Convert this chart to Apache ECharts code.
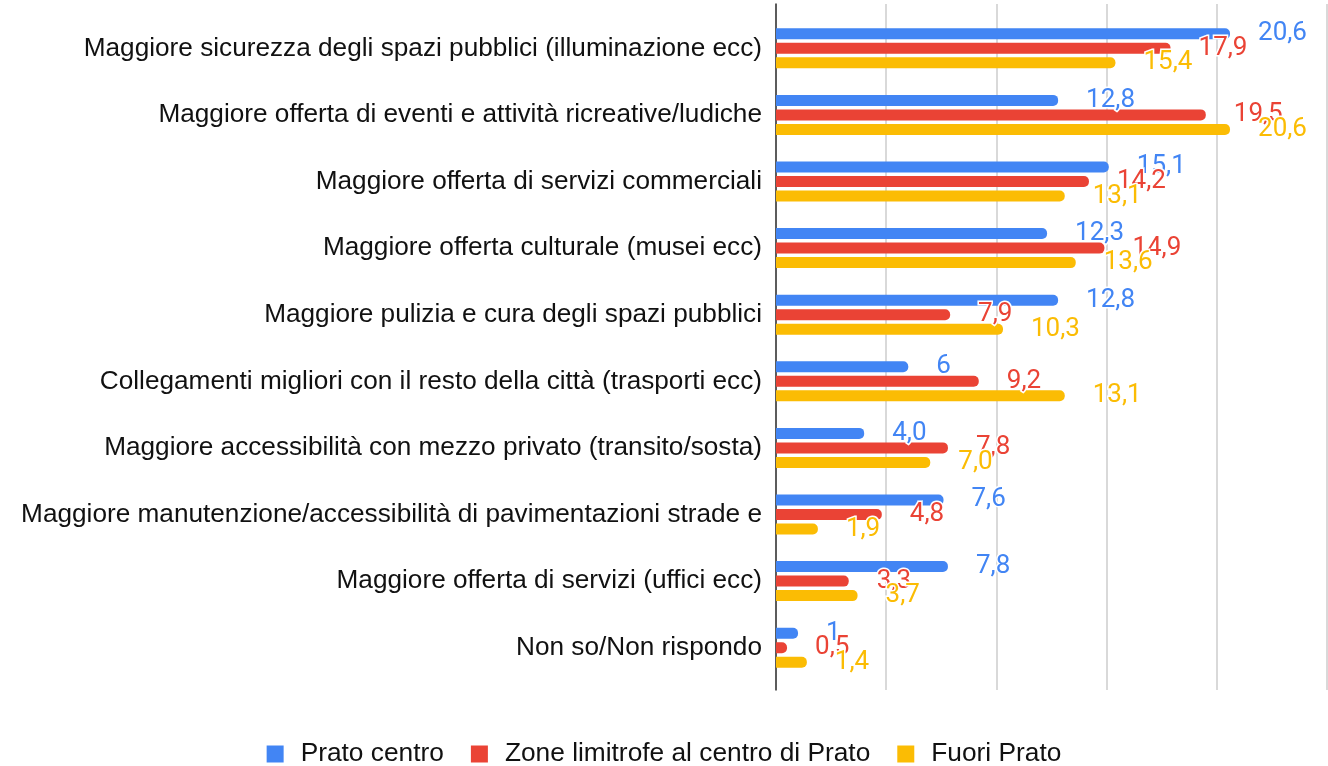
<!DOCTYPE html>
<html>
<head>
<meta charset="utf-8">
<script src="https://cdn.jsdelivr.net/npm/echarts@6/dist/echarts.min.js"></script>
<style>
html,body{margin:0;padding:0;background:#fff;}
#chart{width:1328px;height:766px;}
</style>
</head>
<body>
<div id="chart"></div>
<script>
const categories = [
  'Maggiore sicurezza degli spazi pubblici (illuminazione ecc)',
  'Maggiore offerta di eventi e attività ricreative/ludiche',
  'Maggiore offerta di servizi commerciali',
  'Maggiore offerta culturale (musei ecc)',
  'Maggiore pulizia e cura degli spazi pubblici',
  'Collegamenti migliori con il resto della città (trasporti ecc)',
  'Maggiore accessibilità con mezzo privato (transito/sosta)',
  'Maggiore manutenzione/accessibilità di pavimentazioni strade e',
  'Maggiore offerta di servizi (uffici ecc)',
  'Non so/Non rispondo'
];
const seriesNames = ['Prato centro', 'Zone limitrofe al centro di Prato', 'Fuori Prato'];
const pratoCentro = [20.6, 12.8, 15.1, 12.3, 12.8, 6, 4.0, 7.6, 7.8, 1];
const zoneLimitrofe = [17.9, 19.5, 14.2, 14.9, 7.9, 9.2, 7.8, 4.8, 3.3, 0.5];
const fuoriPrato = [15.4, 20.6, 13.1, 13.6, 10.3, 13.1, 7.0, 1.9, 3.7, 1.4];
const pratoCentroLabels = ['20,6', '12,8', '15,1', '12,3', '12,8', '6', '4,0', '7,6', '7,8', '1'];
const zoneLimitrofeLabels = ['17,9', '19,5', '14,2', '14,9', '7,9', '9,2', '7,8', '4,8', '3,3', '0,5'];
const fuoriPratoLabels = ['15,4', '20,6', '13,1', '13,6', '10,3', '13,1', '7,0', '1,9', '3,7', '1,4'];
const axisMin = 0, axisMax = 25, axisStep = 5;

const colors = ['#4285F4', '#EA4335', '#FBBC04'];
const values = [pratoCentro, zoneLimitrofe, fuoriPrato];
const labels = [pratoCentroLabels, zoneLimitrofeLabels, fuoriPratoLabels];

const chart = echarts.init(document.getElementById('chart'), null, {renderer: 'canvas'});

const series = seriesNames.map((name, i) => ({
  name: name,
  type: 'bar',
  xAxisIndex: 1,
  yAxisIndex: 1,
  data: values[i],
  barWidth: 11,
  barGap: '32%',
  itemStyle: {color: colors[i], borderRadius: [0, 5, 5, 0]},
  label: {
    show: true,
    position: 'right',
    distance: 28,
    formatter: p => labels[i][p.dataIndex],
    color: colors[i],
    fontFamily: 'Roboto',
    fontSize: 26,
    textBorderColor: '#fff',
    textBorderWidth: 3
  },
  emphasis: {disabled: true}
}));

chart.setOption({
  animation: false,
  color: colors,
  grid: [
    {left: 776, right: 1, top: 4, bottom: 76, containLabel: false},
    {left: 776, right: 1, top: 15, bottom: 85, containLabel: false}
  ],
  xAxis: [
    {
      gridIndex: 0, type: 'value', min: axisMin, max: axisMax, interval: axisStep,
      axisLine: {show: false}, axisTick: {show: false}, axisLabel: {show: false},
      splitLine: {show: true, lineStyle: {color: '#cccccc', width: 1.5}}
    },
    {
      gridIndex: 1, type: 'value', min: axisMin, max: axisMax, interval: axisStep,
      show: false
    }
  ],
  yAxis: [
    {
      gridIndex: 0, type: 'value', min: 0, max: 1,
      axisLine: {show: true, onZero: false, lineStyle: {color: '#333333', width: 1.5}},
      axisTick: {show: false}, axisLabel: {show: false}, splitLine: {show: false}
    },
    {
      gridIndex: 1, type: 'category', inverse: true, data: categories,
      axisLine: {show: false}, axisTick: {show: false},
      axisLabel: {
        margin: 14,
        color: '#111111',
        fontFamily: 'Liberation Sans, Arial, sans-serif',
        fontSize: 26.2
      },
      splitLine: {show: false}
    }
  ],
  legend: {
    top: 736,
    left: 'center',
    icon: 'rect',
    itemWidth: 17,
    itemHeight: 17,
    itemGap: 27,
    data: seriesNames,
    textStyle: {
      color: '#111111',
      fontFamily: 'Liberation Sans, Arial, sans-serif',
      fontSize: 26.3,
      padding: [0, 0, 0, 12]
    }
  },
  series: series
});
</script>
</body>
</html>
